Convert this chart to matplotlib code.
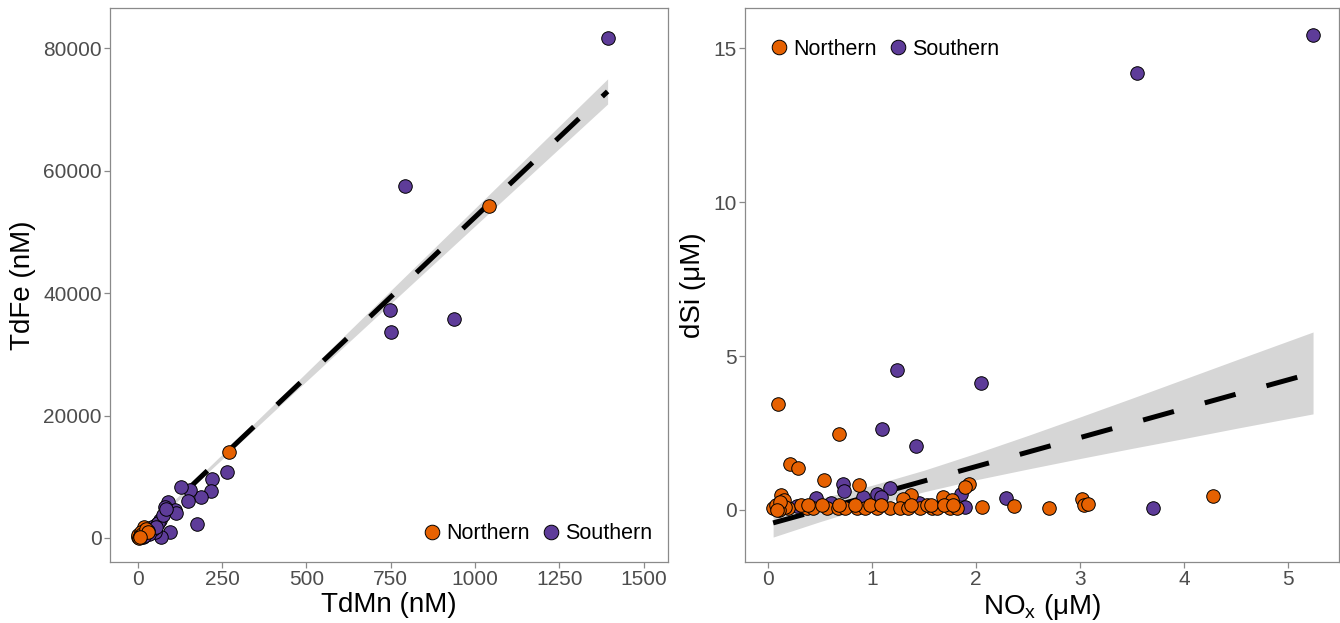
import matplotlib.pyplot as plt
from matplotlib.lines import Line2D

plt.rcParams['font.family'] = ['Liberation Sans', 'DejaVu Sans']
plt.rcParams['mathtext.default'] = 'regular'

# Colours (PuOr)
north_col = '#e66101'
south_col = '#5e3c99'

# ---- Left panel data: TdMn (nM) vs TdFe (nM)
mn_north = [1042, 272, 19, 0, 2, 10, 4, 6, 14, 24, 30, 8]
fe_north = [54200, 14090, 1850, 210, 500, 1000, 0, 300, 600, 1500, 900, 150]
mn_south = [1393, 792, 747, 750, 937, 266, 219, 216, 189, 155, 128, 148, 175,
            90, 110, 115, 80, 65, 97, 70, 51, 41, 26, 15, 60, 45, 35, 20,
            75, 85, 55, 30]
fe_south = [81630, 57470, 37220, 33630, 35750, 10730, 9580, 7730, 6640, 7840,
            8380, 6100, 2230, 5930, 4570, 4030, 5110, 2940, 1030, 210, 1030,
            1850, 770, 200, 2400, 1400, 600, 300, 3800, 4700, 1800, 1100]

# fitted line and 95% band
fit1_x = [0, 200, 400, 600, 800, 1000, 1200, 1393]
fit1_y = [200, 10640, 21080, 31520, 41960, 52400, 62840, 72910]
fit1_lo = [-140, 10300, 20520, 30680, 40820, 50960, 61090, 70860]
fit1_hi = [540, 10980, 21640, 32360, 43100, 53840, 64590, 74960]

# ---- Right panel data: NOx (uM) vs dSi (uM)
nox_north = [0.10, 0.68, 0.21, 0.29, 0.54, 0.88, 1.38, 1.30, 1.93, 1.89, 2.37,
             2.06, 1.68, 1.77, 2.70, 3.02, 3.04, 3.08, 4.28,
             0.05, 0.10, 0.14, 0.19, 0.38, 0.43, 0.57, 0.67, 0.74, 0.86, 0.93,
             1.05, 1.17, 1.27, 1.35, 1.46, 1.58, 1.63, 1.75, 1.82,
             0.32, 0.39, 0.52, 0.68, 0.84, 0.98, 1.09, 1.53, 1.38, 1.57, 1.69,
             1.78, 0.13, 0.15, 0.08, 0.16, 0.11, 0.12, 0.09]
dsi_north = [3.44, 2.47, 1.48, 1.35, 0.97, 0.81, 0.49, 0.36, 0.83, 0.76, 0.14,
             0.09, 0.43, 0.32, 0.075, 0.35, 0.16, 0.18, 0.46,
             0.055, 0.055, 0.055, 0.055, 0.055, 0.055, 0.055, 0.055, 0.055,
             0.055, 0.055, 0.055, 0.055, 0.055, 0.055, 0.055, 0.055, 0.055,
             0.055, 0.055,
             0.16, 0.16, 0.16, 0.16, 0.16, 0.16, 0.16, 0.16, 0.16, 0.16, 0.16,
             0.16, 0.49, 0.32, 0.16, 0.11, 0.0, 0.25, 0.0]
nox_south = [5.24, 3.55, 1.24, 1.10, 1.42, 2.05, 0.72, 0.73, 1.17, 1.05, 1.09,
             0.91, 1.86, 1.89, 2.29, 0.46, 0.28, 0.61, 1.45, 3.70]
dsi_south = [15.42, 14.19, 4.55, 2.62, 2.09, 4.13, 0.84, 0.62, 0.72, 0.52, 0.43,
             0.41, 0.51, 0.11, 0.38, 0.38, 0.13, 0.24, 0.22, 0.075]

fit2_x = [0.05, 0.5, 1.0, 1.5, 2.0, 2.5, 3.0, 3.5, 4.0, 4.5, 5.24]
fit2_y = [-0.42, 0.0, 0.47, 0.94, 1.41, 1.88, 2.35, 2.82, 3.29, 3.76, 4.45]
fit2_lo = [-0.88, -0.38, 0.14, 0.59, 0.98, 1.33, 1.67, 2.00, 2.32, 2.65, 3.12]
fit2_hi = [0.04, 0.37, 0.80, 1.29, 1.84, 2.42, 3.02, 3.63, 4.25, 4.87, 5.78]

fig = plt.figure(figsize=(13.4, 6.23), dpi=100)
ax1 = fig.add_axes([0.0821, 0.0979, 0.4164, 0.8892])
ax2 = fig.add_axes([0.556, 0.0979, 0.4433, 0.8892])


def draw(ax, xn, yn, xs, ys, fx, fy, flo, fhi):
    ax.fill_between(fx, flo, fhi, color='#d6d6d6', lw=0, zorder=1)
    ax.plot(fx, fy, color='black', lw=3.6, dashes=(6.4, 6.4),
            solid_capstyle='butt', dash_capstyle='butt', zorder=2)
    ax.scatter(xs, ys, s=95, color=south_col, edgecolor='black', lw=0.7,
               zorder=3)
    ax.scatter(xn, yn, s=95, color=north_col, edgecolor='black', lw=0.7,
               zorder=4)
    for sp in ax.spines.values():
        sp.set_color('#8a8a8a')
        sp.set_linewidth(0.9)
    ax.tick_params(colors='#8a8a8a', labelcolor='#4d4d4d', labelsize=15,
                   length=4, width=0.9, pad=2)


draw(ax1, mn_north, fe_north, mn_south, fe_south, fit1_x, fit1_y, fit1_lo, fit1_hi)
draw(ax2, nox_north, dsi_north, nox_south, dsi_south, fit2_x, fit2_y, fit2_lo, fit2_hi)

ax1.set_xlim(-82, 1572)
ax1.set_ylim(-3920, 86530)
ax1.set_xticks([0, 250, 500, 750, 1000, 1250, 1500])
ax1.set_yticks([0, 20000, 40000, 60000, 80000])
ax1.set_xlabel('TdMn (nM)', fontsize=20, labelpad=2)
ax1.set_ylabel('TdFe (nM)', fontsize=20, labelpad=5)

ax2.set_xlim(-0.22, 5.49)
ax2.set_ylim(-1.69, 16.3)
ax2.set_xticks([0, 1, 2, 3, 4, 5])
ax2.set_yticks([0, 5, 10, 15])
ax2.set_xlabel('NO$_x$ (μM)', fontsize=20, labelpad=2)
ax2.set_ylabel('dSi (μM)', fontsize=20, labelpad=5)

handles = [
    Line2D([], [], marker='o', ls='none', markersize=10.5, markerfacecolor=north_col,
           markeredgecolor='black', markeredgewidth=0.7, label='Northern'),
    Line2D([], [], marker='o', ls='none', markersize=10.5, markerfacecolor=south_col,
           markeredgecolor='black', markeredgewidth=0.7, label='Southern'),
]
leg_kw = dict(ncol=2, frameon=False, fontsize=15.5, handletextpad=0.05,
              columnspacing=0.4, handlelength=1.2, borderaxespad=0.2)
ax1.legend(handles=handles, loc='lower right', bbox_to_anchor=(0.995, 0.009), **leg_kw)
ax2.legend(handles=handles, loc='upper left', bbox_to_anchor=(0.0135, 0.9675), **leg_kw)

fig.savefig('out.png', dpi=100, facecolor='white')
